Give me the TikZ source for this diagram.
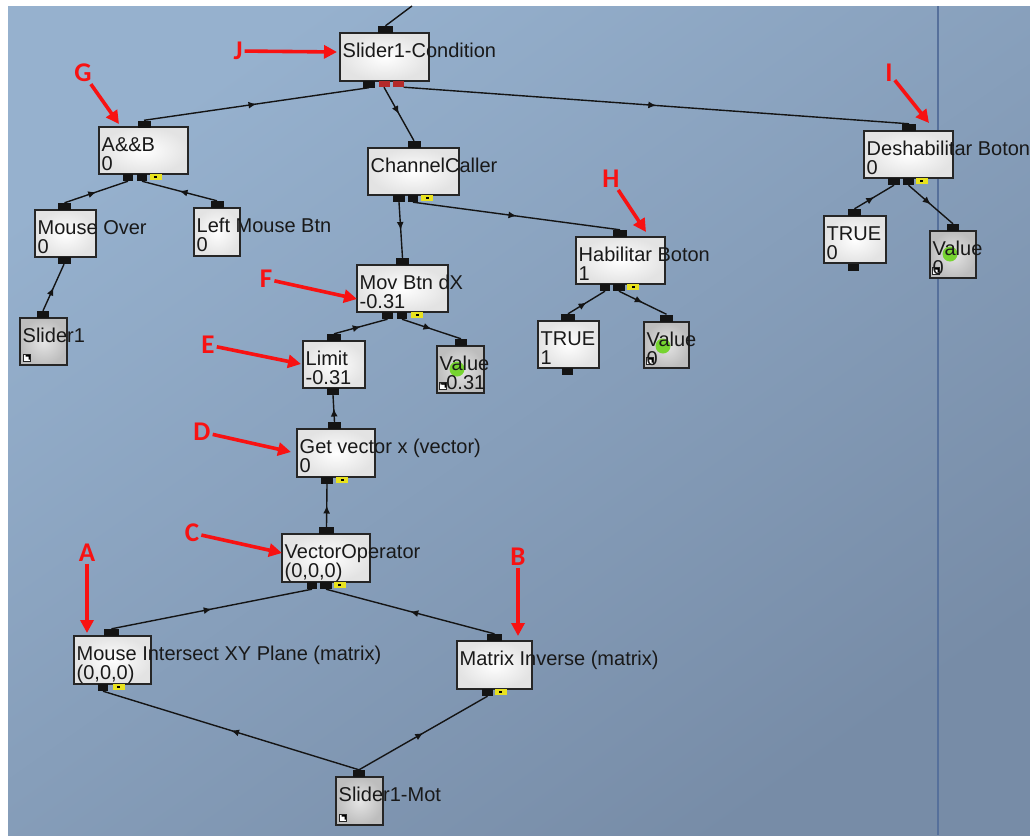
\documentclass[tikz,border=0pt]{standalone}
\usepackage{fontspec}
\setmainfont{Liberation Sans}
\newfontfamily\annfont{Carlito}
\usetikzlibrary{arrows.meta,decorations.markings}
\definecolor{bgA}{RGB}{150,177,206}
\definecolor{bgB}{RGB}{119,140,167}
\definecolor{sepline}{RGB}{86,112,155}
\definecolor{annred}{RGB}{248,18,18}
\definecolor{tabyellow}{RGB}{232,226,30}
\definecolor{portred}{RGB}{180,42,42}
\definecolor{blobgreen}{RGB}{118,212,48}
\tikzset{
  box/.style={draw=black!85, line width=1.3pt, shade, shading=radial, inner color=white, outer color=black!11, inner sep=0pt},
  graybox/.style={draw=black!85, line width=1.3pt, shade, shading=radial, inner color=black!10, outer color=black!26, inner sep=0pt},
  txt/.style={inner sep=0pt, font=\fontsize{20}{20}\selectfont, text=black!90},
  port/.style={fill=black!92, minimum width=13pt, minimum height=7pt, inner sep=0pt},
  rport/.style={fill=portred, minimum width=11pt, minimum height=6pt, inner sep=0pt},
  tab/.style={fill=tabyellow, minimum width=12pt, minimum height=6pt, inner sep=0pt,
    path picture={\fill[black] ([xshift=-1.5pt,yshift=-1pt]path picture bounding box.center) rectangle ++(3pt,2pt);}},
  icon/.style={fill=white, draw=black!85, line width=0.8pt, minimum size=7pt, inner sep=0pt,
    path picture={\fill[black] (path picture bounding box.north east) -- ++(-5pt,0) -- ++(0,-2pt) -- ++(3pt,0) -- ++(0,-3pt) -- ++(2pt,0) -- cycle;}},
  blob/.style={circle, fill=blobgreen, minimum size=15pt, inner sep=0pt},
  wire/.style={line width=1.4pt, draw=black!92,
    decoration={markings, mark=at position 0.5 with {\arrow{Latex[length=8pt,width=7pt]}}},
    postaction={decorate}},
  annot/.style={line width=3.6pt, draw=annred, -{Triangle[length=13pt,width=13pt]}},
  letter/.style={font=\annfont\bfseries\fontsize{27}{27}\selectfont, text=annred, inner sep=2pt},
}
% #1 name, #2 x1, #3 y1, #4 x2, #5 y2, #6 style, #7 line 1, #8 line 2, #9 extras
\newcommand\fbx[9]{%
  \node[#6, minimum width={(#4)-(#2)}, minimum height={(#5)-(#3)}] (#1) at ({((#2)+(#4))/2},{((#3)+(#5))/2}) {};
  #9
  \node[txt, anchor=base west] (#1-a) at ({(#2)+2.5},{(#3)+24}) {#7};
  \if\relax\detokenize{#8}\relax\else
  \node[txt, anchor=base west] (#1-b) at ({(#2)+2.5},{(#3)+43}) {#8};
  \fi}
\begin{document}
\begin{tikzpicture}[x=1pt,y=-1pt]
\useasboundingbox (0,0) rectangle (1030,835);
\fill[white] (0,0) rectangle (1030,835);
\shade[top color=bgA, bottom color=bgB, shading angle=35] (8,6) rectangle (1030,835);
\draw[sepline, line width=2pt] (938,6) -- (938,835);

% ---- boxes ----
\fbx{cond}{340}{33}{429}{81}{box}{Slider1-Condition}{}{}
\fbx{aab}{99}{127}{188}{174}{box}{A\&\&B}{0}{}
\fbx{cc}{368}{148}{459}{195}{box}{ChannelCaller}{}{}
\fbx{mo}{35}{210}{96}{257}{box}{Mouse Over}{0}{}
\fbx{lmb}{194}{208}{240}{256}{box}{Left Mouse Btn}{0}{}
\fbx{s1}{20}{318}{67}{365}{graybox}{Slider1}{}{\node[icon] (s1-ic) at (27,358) {};}
\fbx{mov}{357}{265}{448}{312}{box}{Mov Btn dX}{-0.31}{}
\fbx{lim}{303}{341}{365}{388}{box}{Limit}{-0.31}{}
\fbx{valf}{437}{346}{484}{393}{graybox}{Value}{-0.31}{\node[blob] (valf-g) at (457,369) {};\node[icon] (valf-ic) at (443,386) {};}
\fbx{gv}{297}{429}{375}{477}{box}{Get vector x (vector)}{0}{}
\fbx{vo}{282}{534}{370}{582}{box}{VectorOperator}{(0,0,0)}{}
\fbx{mi}{74}{636}{151}{684}{box}{Mouse Intersect XY Plane (matrix)}{(0,0,0)}{}
\fbx{mx}{457}{641}{532}{689}{box}{Matrix Inverse (matrix)}{}{}
\fbx{sm}{336}{777}{383}{825}{graybox}{Slider1-Mot}{}{\node[icon] (sm-ic) at (343,818) {};}
\fbx{hab}{576}{237}{665}{284}{box}{Habilitar Boton}{1}{}
\fbx{tra}{538}{321}{599}{368}{box}{TRUE}{1}{}
\fbx{valh}{644}{322}{689}{368}{graybox}{Value}{0}{\node[blob] (valh-g) at (663,346) {};\node[icon] (valh-ic) at (650,361) {};}
\fbx{des}{864}{131}{953}{178}{box}{Deshabilitar Boton}{0}{}
\fbx{trb}{824}{216}{886}{263}{box}{TRUE}{0}{}
\fbx{vali}{930}{231}{976}{278}{graybox}{Value}{0}{\node[blob] (vali-g) at (950,254) {};\node[icon] (vali-ic) at (936,271) {};}

% ---- ports ----
\node[port, minimum width=15pt] (cond-in) at (385.5,29.5) {};
\node[port, minimum width=12pt] (cond-o1) at (369,84) {};
\node[rport] (cond-r1) at (384,84) {};
\node[rport] (cond-r2) at (398,84) {};
\node[port] (aab-in) at (144,124) {};
\node[port, minimum width=10pt] (aab-o1) at (128,177.5) {};
\node[port, minimum width=10pt] (aab-o2) at (142,177.5) {};
\node[tab] (aab-t) at (155.5,177) {};
\node[port] (cc-in) at (414,144.5) {};
\node[port, minimum width=12pt] (cc-o1) at (399,198.5) {};
\node[port, minimum width=10pt] (cc-o2) at (413,198.5) {};
\node[tab] (cc-t) at (427,198) {};
\node[port] (mo-in) at (64.5,206.5) {};
\node[port] (mo-out) at (64,260.5) {};
\node[port] (lmb-in) at (217,204.5) {};
\node[port, minimum width=12pt] (s1-in) at (43,314.5) {};
\node[port] (mov-in) at (402.5,261.5) {};
\node[port, minimum width=11pt] (mov-o1) at (387.5,315.5) {};
\node[port, minimum width=10pt] (mov-o2) at (402,315.5) {};
\node[tab] (mov-t) at (417,315) {};
\node[port, minimum width=14pt] (lim-in) at (334,337.5) {};
\node[port, minimum width=12pt] (lim-out) at (333,391.5) {};
\node[port, minimum width=12pt] (valf-in) at (461,342.5) {};
\node[port] (gv-in) at (334.5,425.5) {};
\node[port, minimum width=12pt] (gv-out) at (327,480.5) {};
\node[tab] (gv-t) at (342,480) {};
\node[port, minimum width=15pt] (vo-in) at (326.5,530.5) {};
\node[port, minimum width=10pt] (vo-o1) at (312,585.5) {};
\node[port, minimum width=12pt] (vo-o2) at (326,585.5) {};
\node[tab] (vo-t) at (339.5,585) {};
\node[port, minimum width=15pt] (mi-in) at (111.5,632.5) {};
\node[port, minimum width=10pt] (mi-out) at (103,687.5) {};
\node[tab] (mi-t) at (118.5,687) {};
\node[port, minimum width=15pt] (mx-in) at (494.5,637.5) {};
\node[port, minimum width=11pt] (mx-out) at (487.5,692.5) {};
\node[tab] (mx-t) at (500.5,692) {};
\node[port, minimum width=12pt] (sm-in) at (359,773.5) {};
\node[port, minimum width=14pt] (hab-in) at (620,233.5) {};
\node[port, minimum width=10pt] (hab-o1) at (605,287.5) {};
\node[port, minimum width=12pt] (hab-o2) at (619,287.5) {};
\node[tab] (hab-t) at (633,287) {};
\node[port, minimum width=14pt] (tra-in) at (568,317.5) {};
\node[port, minimum width=11pt] (tra-out) at (567.5,371.5) {};
\node[port] (valh-in) at (666.5,318) {};
\node[port, minimum width=14pt] (des-in) at (909,127.5) {};
\node[port, minimum width=12pt] (des-o1) at (894,181.5) {};
\node[port, minimum width=11pt] (des-o2) at (908.5,181.5) {};
\node[tab] (des-t) at (921.5,181) {};
\node[port] (trb-in) at (854.5,212.5) {};
\node[port, minimum width=11pt] (trb-out) at (853.5,267) {};
\node[port, minimum width=12pt] (vali-in) at (953,227.5) {};

% ---- wires ----
\coordinate (cond-up) at (412,6);
\draw[line width=1.4pt, black!92] (cond-in.north) -- (cond-up);
\draw[wire] (aab-in.north) -- (cond-o1.south);
\draw[wire] (cond-r1.south) -- (cc-in.north);
\draw[wire] (cond-r2.south east) -- (des-in.north);
\draw[wire] (mo-in.north) -- (aab-o1.south);
\draw[wire] (lmb-in.north) -- (aab-o2.south);
\draw[wire] (s1-in.north) -- (mo-out.south);
\draw[wire] (cc-o1.south) -- (mov-in.north);
\draw[wire] (cc-o2.south) -- (hab-in.north);
\draw[wire] (lim-in.north) -- (mov-o1.south);
\draw[wire] (mov-o2.south) -- (valf-in.north);
\draw[wire] (gv-in.north) -- (lim-out.south);
\draw[wire] (vo-in.north) -- (gv-out.south);
\draw[wire] (mi-in.north) -- (vo-o1.south);
\draw[wire] (mx-in.north) -- (vo-o2.south);
\draw[wire] (sm-in.north) -- (mi-out.south);
\draw[wire] (sm-in.north) -- (mx-out.south);
\draw[wire] (tra-in.north) -- (hab-o1.south);
\draw[wire] (hab-o2.south) -- (valh-in.north);
\draw[wire] (trb-in.north) -- (des-o1.south);
\draw[wire] (des-o2.south) -- (vali-in.north);

% ---- annotations ----
\node[letter] (J) at (238,51) {J};
\node[letter] (G) at (83,73) {G};
\node[letter] (I) at (889,73) {I};
\node[letter] (H) at (611,179) {H};
\node[letter] (F) at (266,279) {F};
\node[letter] (E) at (208,345) {E};
\node[letter] (D) at (202,432) {D};
\node[letter] (C) at (192,533) {C};
\node[letter] (A) at (87,553) {A};
\node[letter] (B) at (518,557) {B};
\coordinate (J-end) at (337,52);
\coordinate (G-end) at (119,124);
\coordinate (I-end) at (929,123);
\coordinate (H-end) at (646,232);
\coordinate (F-end) at (357,299);
\coordinate (E-end) at (301,364);
\coordinate (D-end) at (291,452);
\coordinate (C-end) at (282,553);
\coordinate (A-end) at (87,633);
\coordinate (B-end) at (518,636);
\foreach \l in {J,G,I,H,F,E,D,C,A,B} {\draw[annot] (\l) -- (\l-end);}
\end{tikzpicture}
\end{document}
